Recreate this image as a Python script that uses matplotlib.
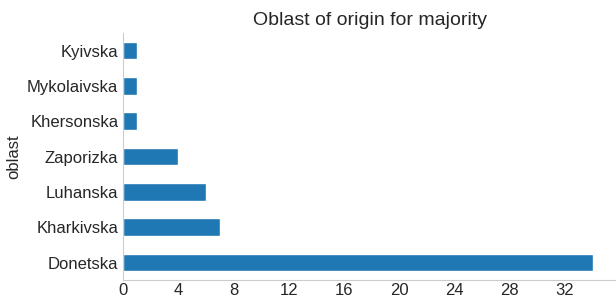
import matplotlib
matplotlib.use("Agg")
import matplotlib.pyplot as plt
import seaborn as sns

# Data
oblasts = ['Donetska', 'Kharkivska', 'Luhanska', 'Zaporizka',
           'Khersonska', 'Mykolaivska', 'Kyivska']
counts = [34, 7, 6, 4, 1, 1, 1]

sns.set_style('white')
plt.rcParams['font.family'] = ['Liberation Sans', 'DejaVu Sans']

fig = plt.figure(figsize=(6.16, 2.99), dpi=100)
ax = fig.add_axes([0.2, 0.063, 0.8, 0.827])

ax.barh(range(len(oblasts)), counts, height=0.5, color='#1f77b4')
ax.set_yticks(range(len(oblasts)))
ax.set_yticklabels(oblasts, fontsize=12, color='#262626')
ax.set_ylim(-0.5, len(oblasts) - 0.5)
ax.set_xlim(0, max(counts) * 1.05)
ax.set_xticks(range(0, 33, 4))
ax.tick_params(axis='x', labelsize=12, labelcolor='#262626', length=0, pad=2)
ax.tick_params(axis='y', length=0)
ax.set_ylabel('oblast', fontsize=12, color='#262626')
ax.set_title('Oblast of origin for majority', fontsize=14, color='#262626')
sns.despine()
for side in ['left', 'bottom']:
    ax.spines[side].set_color('#cccccc')

fig.savefig('out.png', dpi=100)
